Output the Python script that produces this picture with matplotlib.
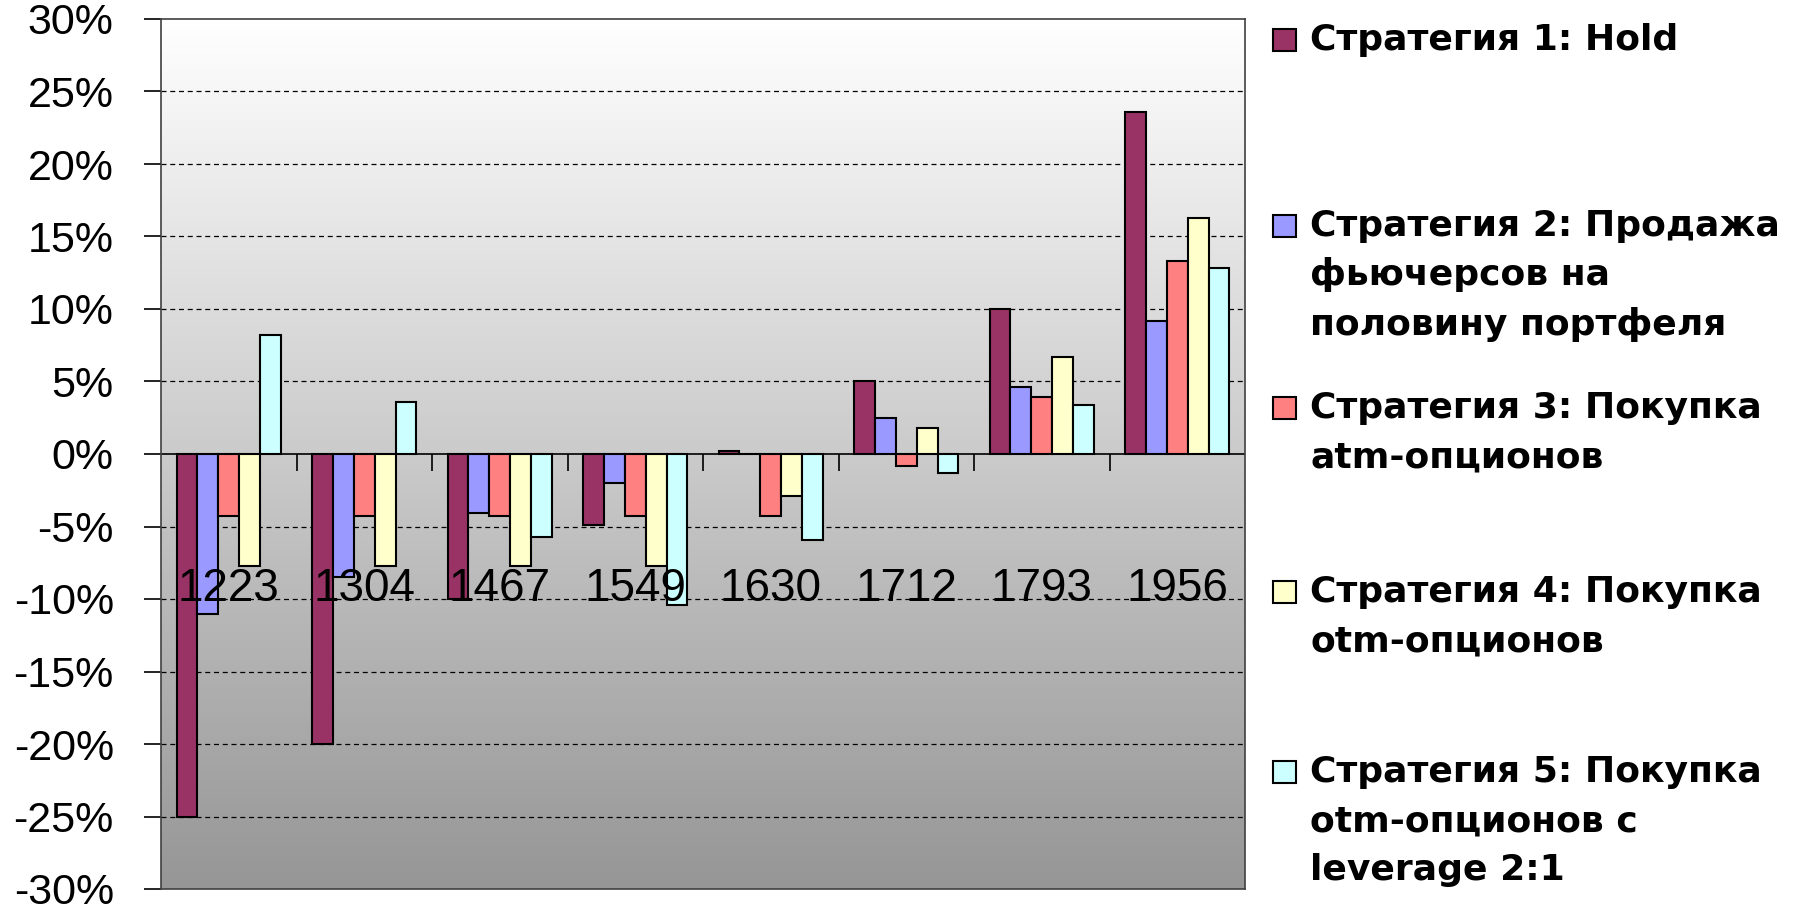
import numpy as np
import matplotlib
matplotlib.use("Agg")
import matplotlib.pyplot as plt
from matplotlib.colors import LinearSegmentedColormap
from matplotlib.patches import Rectangle

# Данные (в %)
categories = ["1223", "1304", "1467", "1549", "1630", "1712", "1793", "1956"]
s1 = [-25.0, -20.0, -10.0, -4.9, 0.2, 5.0, 10.0, 23.6]
s2 = [-11.0, -8.5, -4.1, -2.0, 0.0, 2.5, 4.6, 9.2]
s3 = [-4.3, -4.3, -4.3, -4.3, -4.3, -0.8, 3.9, 13.3]
s4 = [-7.7, -7.7, -7.7, -7.7, -2.9, 1.8, 6.7, 16.3]
s5 = [8.2, 3.6, -5.7, -10.4, -5.9, -1.3, 3.4, 12.8]
series = [s1, s2, s3, s4, s5]
colors = ["#993366", "#9999FF", "#FF8080", "#FFFFCC", "#CCFFFF"]
legend_lines = [
    ["Стратегия 1: Hold"],
    ["Стратегия 2: Продажа", "фьючерсов на", "половину портфеля"],
    ["Стратегия 3: Покупка", "atm-опционов"],
    ["Стратегия 4: Покупка", "otm-опционов"],
    ["Стратегия 5: Покупка", "otm-опционов с", "leverage 2:1"],
]
yticks = list(range(-30, 31, 5))

W, H = 1802, 917
fig = plt.figure(figsize=(W / 100, H / 100), dpi=100)
ax = fig.add_axes([161 / W, 1 - 889 / H, (1245 - 161) / W, (889 - 19) / H])

# Градиентный фон (сверху белый, снизу серый)
cmap = LinearSegmentedColormap.from_list("bg", ["#ffffff", "#969696"])
grad = np.linspace(0, 1, 256)[:, None]
ax.imshow(grad, extent=[-0.5, 7.5, -30, 30], origin="upper", aspect="auto",
          cmap=cmap, zorder=0)

x = np.arange(len(categories))
w = 0.154
for i, (vals, c) in enumerate(zip(series, colors)):
    ax.bar(x + (i - 2) * w, vals, width=w, color=c, edgecolor="black",
           linewidth=1.5, zorder=3)

ax.set_xlim(-0.5, 7.5)
ax.set_ylim(-30, 30)

# Сетка
for v in yticks:
    if v not in (-30, 0, 30):
        ax.axhline(v, color="black", linewidth=0.9, linestyle=(0, (4, 3)), zorder=1)
ax.axhline(0, color="black", linewidth=1.2, zorder=2)
ax.vlines(x[:-1] + 0.5, -1.2, 0, color="black", linewidth=1.2, zorder=2)

ax.set_yticks(yticks)
ax.set_yticklabels([f"{v}%" for v in yticks], fontsize=31, family="Liberation Sans")
ax.tick_params(axis="y", direction="out", length=12, width=1.2, pad=22)
ax.set_xticks([])
for s in ax.spines.values():
    s.set_color("#404040")
    s.set_linewidth(1.2)

# Подписи категорий внутри области графика
for xi, lab in zip(x, categories):
    ax.text(xi, -9.3, lab, ha="center", va="center", fontsize=33,
            family="Liberation Sans", zorder=5)

# Легенда
first_y = [40, 226, 408, 592, 772]
step = 49
for lines, c, y0 in zip(legend_lines, colors, first_y):
    fig.patches.append(Rectangle((1273 / W, 1 - (y0 + 11) / H), 23 / W, 22 / H,
                                 transform=fig.transFigure, facecolor=c,
                                 edgecolor="black", linewidth=1.5))
    for k, t in enumerate(lines):
        fig.text(1310 / W, 1 - (y0 + k * step) / H, t, ha="left", va="center",
                 fontsize=26, fontweight="bold", family="DejaVu Sans")

fig.savefig("out.png", dpi=100)
